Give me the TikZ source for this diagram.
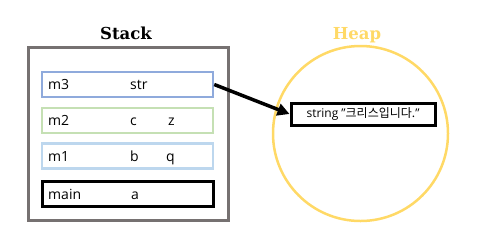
\documentclass[tikz,border=0pt]{standalone}
\usepackage{fontspec}
\setmainfont{DejaVu Serif}
\setsansfont{Open Sans}
\newfontfamily\krfont{Noto Sans CJK KR}
\usetikzlibrary{arrows.meta}
\definecolor{stackgray}{HTML}{767171}
\definecolor{bluem}{HTML}{8FAADC}
\definecolor{greenm}{HTML}{C5E0B4}
\definecolor{lightb}{HTML}{BDD7EE}
\definecolor{heapy}{HTML}{FFD966}
\begin{document}
\begin{tikzpicture}[x=1pt,y=-1pt,
  frame/.style={draw, line width=2.5pt, minimum width=171pt, minimum height=25pt, inner sep=0pt},
  lbl/.style={font=\sffamily\fontsize{14}{16}\selectfont, anchor=base west, inner sep=0pt},
  title/.style={font=\bfseries\fontsize{16.5}{20}\selectfont, anchor=base}]
\useasboundingbox (0,0) rectangle (481,239);
\node[draw=stackgray, line width=3pt, minimum width=200pt, minimum height=173pt, inner sep=0pt] (stack) at (128,133.5) {};
\node[title] (stacktitle) at (126,39) {Stack};
\node[frame, draw=bluem] (m3) at (127.5,84.5) {};
\node[frame, draw=greenm] (m2) at (127.5,120.5) {};
\node[frame, draw=lightb] (m1) at (127.5,156) {};
\node[frame, draw=black, line width=3pt] (main) at (127.5,194) {};
\node[lbl] (m3a) at (48,89.5) {m3};
\node[lbl] (m3b) at (130,89.5) {str};
\node[lbl] (m2a) at (48,125.5) {m2};
\node[lbl] (m2b) at (130,125.5) {c};
\node[lbl] (m2c) at (168,125.5) {z};
\node[lbl] (m1a) at (48,161) {m1};
\node[lbl] (m1b) at (130,161) {b};
\node[lbl] (m1c) at (166,161) {q};
\node[lbl] (maina) at (48,199) {main};
\node[lbl] (mainb) at (131,199) {a};
\node[draw=heapy, line width=2.5pt, circle, minimum size=175pt, inner sep=0pt] (heap) at (360.5,133.5) {};
\node[title, text=heapy] (heaptitle) at (357,39) {Heap};
\node[draw=black, line width=3pt, minimum width=144pt, minimum height=22pt, inner sep=0pt,
  font=\sffamily\fontsize{12}{14}\selectfont] (str) at (363,114) {string "{\krfont 크리스입니다.}"};
\draw[line width=3.5pt, -{Triangle[length=12pt,width=12pt]}] (m3.east) -- (str.west);
\end{tikzpicture}
\end{document}
